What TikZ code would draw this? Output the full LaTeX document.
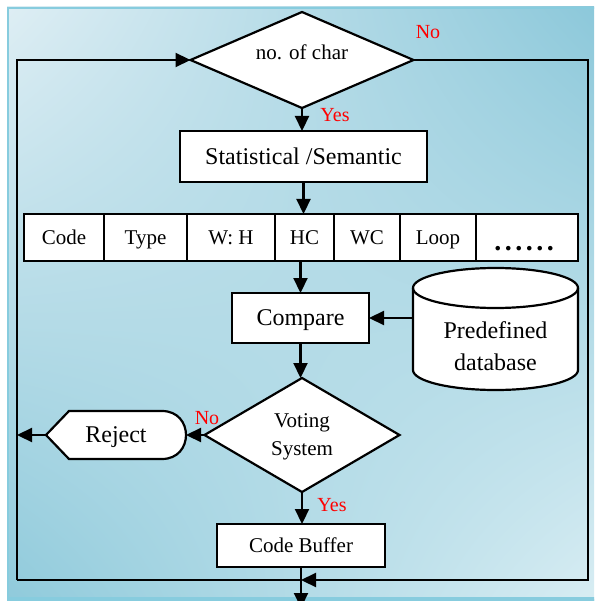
\documentclass[tikz,border=0pt]{standalone}
\usepackage{fontspec}
\setmainfont{Liberation Serif}
\usetikzlibrary{arrows.meta,shapes.geometric,calc,shadings}
\definecolor{bgTL}{RGB}{222,238,244}
\definecolor{bgTR}{RGB}{140,200,218}
\definecolor{bgBL}{RGB}{143,202,219}
\definecolor{bgBR}{RGB}{216,237,243}
\definecolor{bgEdge}{RGB}{135,204,222}
\definecolor{lblred}{RGB}{255,0,0}
\tikzset{
  ln/.style={line width=2.2pt},
  arr/.style={ln,-{Triangle[length=15pt,width=14pt]}},
  boxnode/.style={draw,ln,fill=white,rectangle,inner sep=0pt,outer sep=0pt},
  bigtxt/.style={font=\fontsize{24}{28}\selectfont,text height=19.8pt,text depth=4pt},
  midtxt/.style={font=\fontsize{21}{24}\selectfont,text height=17.9pt,text depth=4pt},
  cellnode/.style={boxnode,minimum height=47pt,midtxt},
  ghost/.style={rectangle,inner sep=0pt,outer sep=0pt},
  lbl/.style={text=lblred,font=\fontsize{20}{24}\selectfont,inner sep=0pt},
}
\begin{document}
\begin{tikzpicture}[x=1pt,y=-1pt]
\useasboundingbox (0,0) rectangle (594,601);
\begin{scope}
\clip (0,0) rectangle (594,601);
% background panel
\shade[upper left=bgTL, upper right=bgTR, lower left=bgBL, lower right=bgBR] (7,7) rectangle (596,603);
\draw[bgEdge,line width=2pt] (8,8) rectangle (596,600);
\draw[bgEdge,line width=5pt] (7,599) -- (596,599);

% decision: no. of char
\node[diamond,draw,ln,fill=white,minimum width=223pt,minimum height=96pt,inner sep=0pt,outer sep=0pt] (d1) at (302,60) {};
\node[font=\fontsize{21}{24}\selectfont,inner sep=0pt] (t1) at (302,52) {no. of char};

% Statistical / Semantic
\node[boxnode,minimum width=247pt,minimum height=51pt,bigtxt] (s1) at (303.5,156.5) {Statistical /Semantic};

% feature table
\node[cellnode,minimum width=80pt] (c1) at (64,237.5) {Code};
\node[cellnode,minimum width=83pt] (c2) at (145.5,237.5) {Type};
\node[cellnode,minimum width=88pt] (c3) at (231,237.5) {W: H};
\node[cellnode,minimum width=59pt] (c4) at (304.5,237.5) {HC};
\node[cellnode,minimum width=66pt] (c5) at (367,237.5) {WC};
\node[cellnode,minimum width=76pt] (c6) at (438,237.5) {Loop};
\node[boxnode,minimum width=102pt,minimum height=47pt] (c7) at (527,237.5) {};
\node[inner sep=0pt,font=\fontsize{28}{30}\selectfont\bfseries,anchor=base] (dots) at (524,251) {.\kern3.5pt.\kern3.5pt.\kern3.5pt.\kern3.5pt.\kern3.5pt.};

% Compare
\node[boxnode,minimum width=137pt,minimum height=50pt,bigtxt] (cmp) at (300.5,318) {Compare};

% database cylinder
\node[ghost,minimum width=165pt,minimum height=122pt] (db) at (495.5,329) {};
\filldraw[ln,fill=white] (413,288) -- (413,370)
  arc[start angle=180,end angle=0,x radius=82.5,y radius=20] -- (578,288)
  arc[start angle=0,end angle=-180,x radius=82.5,y radius=20] -- cycle;
\draw[ln] (413,288) arc[start angle=180,end angle=0,x radius=82.5,y radius=20];
\node[align=center,inner sep=0pt,font=\fontsize{24}{32}\selectfont] (dbt) at (495.5,346) {Predefined\\database};

% Voting system
\node[diamond,draw,ln,fill=white,minimum width=195pt,minimum height=114pt,inner sep=0pt,outer sep=0pt] (d2) at (302,435) {};
\node[align=center,inner sep=0pt,font=\fontsize{21}{28}\selectfont] (t2) at (302,437) {Voting\\System};

% Reject
\node[ghost,minimum width=140pt,minimum height=48pt] (rej) at (116,435) {};
\filldraw[ln,fill=white] (46,435) -- (69,411) -- (162,411)
  .. controls (194,411) and (194,459) .. (162,459) -- (69,459) -- cycle;
\node[font=\fontsize{24}{28}\selectfont,inner sep=0pt] (rejt) at (116,437) {Reject};

% Code Buffer
\node[boxnode,minimum width=168pt,minimum height=43pt,midtxt] (cb) at (301,545.5) {Code Buffer};

% loop coordinates
\coordinate (lt) at (17,60);
\coordinate (lb) at (17,580);
\coordinate (rt) at (588,60);
\coordinate (rb) at (588,580);
\coordinate (mb) at (301,580);
\coordinate (out) at (301,608);
\coordinate (rl) at (17,435);

% connectors
\draw[arr] (lb) -- (lt) -- (d1.west);
\draw[ln] (mb) -- (lb);
\draw[arr] (d1.east) -- (rt) -- (rb) -- (mb);
\draw[arr] (d1.south) -- (d1.south |- s1.north);
\draw[arr] (s1.south) -- (s1.south |- c4.north);
\draw[arr] (cmp.north |- c4.south) -- (cmp.north);
\draw[arr] (db.west |- cmp.east) -- (cmp.east);
\draw[arr] (cmp.south) -- (cmp.south |- d2.north);
\draw[arr] (d2.west) -- (rej.east);
\draw[arr] (rej.west) -- (rl);
\draw[arr] (d2.south) -- (d2.south |- cb.north);
\draw[arr] (cb.south) -- (out);

% labels
\node[lbl] (no1) at (428,32) {No};
\node[lbl] (yes1) at (335,115) {Yes};
\node[lbl] (no2) at (207,418) {No};
\node[lbl] (yes2) at (332,505) {Yes};
\end{scope}
\end{tikzpicture}
\end{document}
